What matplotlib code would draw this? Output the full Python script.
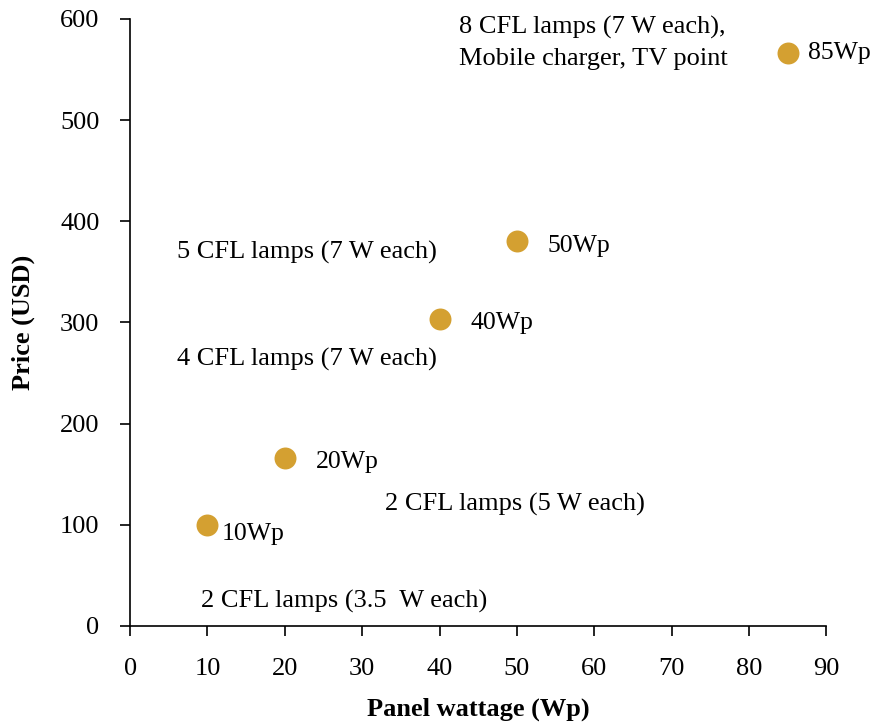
import matplotlib
matplotlib.use('Agg')
from matplotlib import pyplot as plt

# panel wattage vs price
wattage = [10, 20, 40, 50, 85]
price = [100, 166, 303, 380, 566]
point_labels = ['10Wp', '20Wp', '40Wp', '50Wp', '85Wp']
loads = ['2 CFL lamps (3.5  W each)',
         '2 CFL lamps (5 W each)',
         '4 CFL lamps (7 W each)',
         '5 CFL lamps (7 W each)',
         '8 CFL lamps (7 W each),\nMobile charger, TV point']

x_ticks = list(range(0, 91, 10))
y_ticks = list(range(0, 601, 100))

plt.rcParams['font.family'] = ['Liberation Serif', 'DejaVu Serif']

fig = plt.figure(figsize=(8.79, 7.27), dpi=100)
ax = fig.add_axes([0.148, 0.139, 0.792, 0.835])

ax.scatter(wattage, price, s=250, color='#D4A031', zorder=3, linewidths=0)

# point labels, offset (data units) from each marker
pt_off = [(1.8, -9), (4.0, -4), (4.0, -3.5), (4.0, -4), (2.6, 0)]
for x, y, lab, (dx, dy) in zip(wattage, price, point_labels, pt_off):
    ax.text(x + dx, y + dy, lab, fontsize=18.5, va='center', ha='left')

# load descriptions
load_pos = [(9.2, 24), (33.0, 120), (6.1, 263), (6.1, 369), (42.5, 576)]
for lab, (x, y) in zip(loads, load_pos):
    ax.text(x, y, lab, fontsize=19, va='center', ha='left', linespacing=1.55)

ax.set_xlim(0, 90)
ax.set_ylim(0, 600)
ax.set_xticks(x_ticks)
ax.set_yticks(y_ticks)
ax.tick_params(axis='both', labelsize=19, length=7, width=1.2, direction='out')
ax.tick_params(axis='x', pad=16)
ax.tick_params(axis='y', pad=15)

ax.spines['top'].set_visible(False)
ax.spines['right'].set_visible(False)
ax.spines['left'].set_linewidth(1.2)
ax.spines['bottom'].set_linewidth(1.2)

ax.set_xlabel('Panel wattage (Wp)', fontsize=19, fontweight='bold', labelpad=13)
ax.set_ylabel('Price (USD)', fontsize=19, fontweight='bold', labelpad=18)

plt.savefig('out.png', dpi=100)
